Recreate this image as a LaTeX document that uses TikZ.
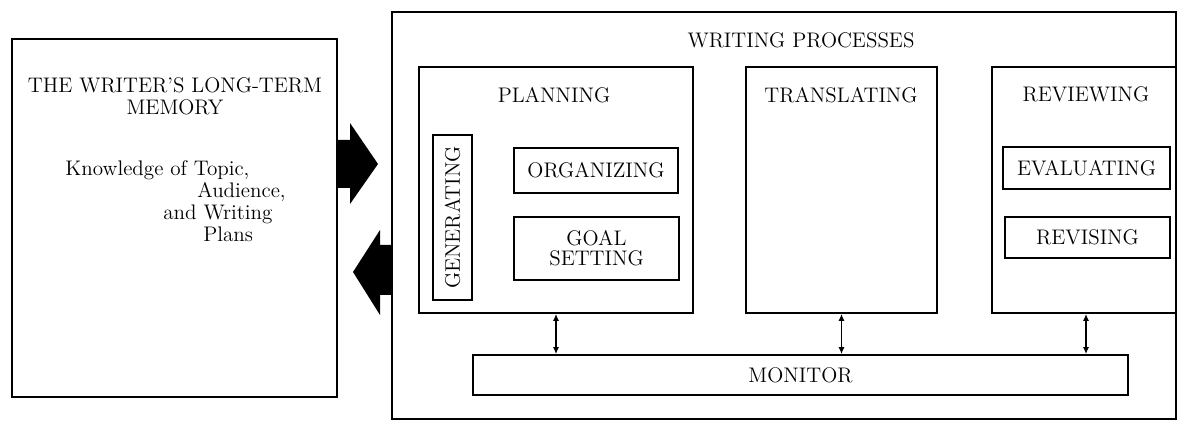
\documentclass[tikz,border=0pt]{standalone}
\usetikzlibrary{arrows.meta,fit}
\begin{document}
\begin{tikzpicture}[
                x=0.2mm, y=-0.2mm,
                wpBox/.style={draw=black,line width=1pt,inner sep=0pt},
                wpTitle/.style={font=\large,inner sep=0pt},
                wpLink/.style={line width=0.8pt,
                               {Latex[length=4pt,width=3.5pt]}-{Latex[length=4pt,width=3.5pt]}},
                wpBlock/.style={fill=black}]
                \useasboundingbox (0,0) rectangle (1178,421);
                \node[wpBox, fit={(12,39) (337,397)}] (mem) {};
                \node[wpTitle, align=center] (memT) at (175,96)
                    {THE WRITER'S LONG-TERM\\[-1.5pt] MEMORY};
                \node[wpTitle, align=left, anchor=north west] (memK) at (65,160)
                    {Knowledge of Topic,\\[-1.5pt]
                     \hspace*{26.4mm}Audience,\\[-1.5pt]
                     \hspace*{19.6mm}and Writing\\[-1.5pt]
                     \hspace*{27.6mm}Plans};
                \node[wpBox, fit={(392,12) (1176,419)}] (proc) {};
                \node[wpTitle] (procT) at (801,40) {WRITING PROCESSES};
                \node[wpBox, fit={(419,67) (693,313)}] (plan) {};
                \node[wpTitle] (planT) at (554,95) {PLANNING};
                \node[wpBox, fit={(433,135) (472,300)}] (gen) {};
                \node[wpTitle, rotate=90] (genT) at (gen.center) {GENERATING};
                \node[wpBox, fit={(514,148) (678,193)}] (org) {};
                \node[wpTitle] (orgT) at (org.center) {ORGANIZING};
                \node[wpBox, fit={(514,217) (679,280)}] (goal) {};
                \node[wpTitle, align=center] (goalT) at (goal.center) {GOAL\\[-2.5pt] SETTING};
                \node[wpBox, fit={(746,67) (937,313)}] (trans) {};
                \node[wpTitle] (transT) at (841,95) {TRANSLATING};
                \node[wpBox, fit={(992,67) (1176,313)}] (rev) {};
                \node[wpTitle] (revT) at (1086,94) {REVIEWING};
                \node[wpBox, fit={(1003,147) (1170,189)}] (eval) {};
                \node[wpTitle] (evalT) at (eval.center) {EVALUATING};
                \node[wpBox, fit={(1005,217) (1170,258)}] (revis) {};
                \node[wpTitle] (revisT) at (revis.center) {REVISING};
                \node[wpBox, fit={(473,355) (1128,395)}] (mon) {};
                \node[wpTitle] (monT) at (mon.center) {MONITOR};
                \draw[wpLink] (plan.south) -- (plan.south |- mon.north);
                \draw[wpLink] (trans.south) -- (trans.south |- mon.north);
                \draw[wpLink] (revT |- rev.south) -- (revT |- mon.north);
                \fill[wpBlock] (mem.east |- 0,140) -- (350,140) -- (350,123) -- (378,164)
                    -- (350,204) -- (350,188) -- (mem.east |- 0,188) -- cycle;
                \fill[wpBlock] (proc.west |- 0,245) -- (380,245) -- (380,230) -- (353,272)
                    -- (380,315) -- (380,295) -- (proc.west |- 0,295) -- cycle;
            \end{tikzpicture}
\end{document}
